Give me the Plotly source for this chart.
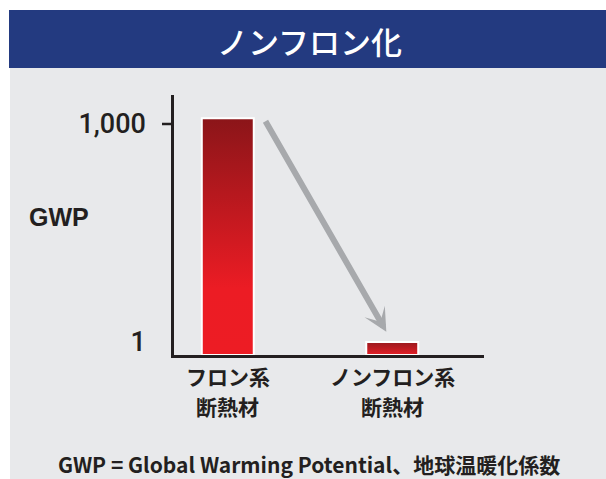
import math
import plotly.graph_objects as go

# GWP of insulation foam: fluorocarbon-blown vs. non-fluorocarbon
categories = [["フロン系", "断熱材"], ["ノンフロン系", "断熱材"]]
gwp_values = [1200, 1]
tick_values = [1, 1000]
tick_labels = ["1", "1,000"]

title_text = "ノンフロン化"
footer_text = "GWP = Global Warming Potential、地球温暖化係数"

NAVY = "#233a80"
PANEL = "#e8e9eb"
INK = "#231f20"
ARROW = "#a7a9ac"

# log axis range (exponents)
y_range = [-0.179, 3.399]
y_floor = 10 ** y_range[0]
half_w = 0.158

# gradient ramps: bottom (0) to top (1)
ramps = [
    [[0, "#ed1c24"], [0.28, "#ec1c24"], [1, "#8b1519"]],
    [[0, "#e41e26"], [1, "#98191e"]],
]

fig = go.Figure()
for i, (v, ramp) in enumerate(zip(gwp_values, ramps)):
    fig.add_trace(go.Scatter(
        x=[i - half_w, i + half_w, i + half_w, i - half_w, i - half_w],
        y=[y_floor, y_floor, v, v, y_floor],
        mode="lines",
        fill="toself",
        fillgradient=dict(type="vertical", colorscale=ramp),
        line=dict(color="white", width=2),
        hoverinfo="skip",
        showlegend=False,
    ))

W, H = 606, 479
L, R, T, B = 174, 122, 95, 124
pw, ph = W - L - R, H - T - B


def px(xp):
    return (xp - L) / pw


def py(yp):
    return (H - B - yp) / ph


shapes = [
    # panel background
    dict(type="rect", xref="paper", yref="paper", x0=px(10), x1=px(612),
         y0=py(490), y1=py(68), fillcolor=PANEL, line_width=0, layer="below"),
    # header band
    dict(type="rect", xref="paper", yref="paper", x0=px(9), x1=px(612),
         y0=py(68), y1=py(10), fillcolor=NAVY, line_width=0, layer="below"),
    # tick mark at 1,000
    dict(type="line", xref="paper", yref="y", x0=px(162), x1=0,
         y0=tick_values[1], y1=tick_values[1],
         line=dict(color=INK, width=2.5)),
]

annotations = [
    dict(text=title_text, xref="paper", yref="paper", x=px(309), y=py(40),
         xanchor="center", yanchor="middle", showarrow=False,
         font=dict(family="Noto Sans CJK JP", size=31, color="white", weight=500)),
    dict(text="GWP", xref="paper", yref="paper", x=px(59), y=py(217),
         xanchor="center", yanchor="middle", showarrow=False,
         font=dict(family="Liberation Sans", size=25, color=INK, weight="bold")),
    dict(text=footer_text, xref="paper", yref="paper", x=px(309), y=py(464),
         xanchor="center", yanchor="middle", showarrow=False,
         font=dict(family="Noto Sans CJK JP", size=21, color=INK, weight="bold")),
    # downward arrow from the fluorocarbon bar to the non-fluorocarbon bar
    dict(x=0.964, y=math.log10(gwp_values[1]) + 0.14,
         ax=0.224, ay=math.log10(gwp_values[0]) - 0.02,
         xref="x", yref="y", axref="x", ayref="y",
         showarrow=True, text="", arrowcolor=ARROW, arrowwidth=6,
         arrowhead=3, arrowsize=0.65),
]

# two-line category labels under each bar
for i, lines in enumerate(categories):
    for j, line in enumerate(lines):
        annotations.append(dict(
            text=line, xref="x", yref="paper", x=i, y=py(376 + 30 * j),
            xanchor="center", yanchor="middle", showarrow=False,
            font=dict(family="Noto Sans CJK JP", size=21, color=INK, weight="bold"),
        ))

fig.update_layout(
    width=W, height=H,
    margin=dict(l=L, r=R, t=T, b=B, pad=0),
    paper_bgcolor="white",
    plot_bgcolor="rgba(0,0,0,0)",
    shapes=shapes,
    annotations=annotations,
    xaxis=dict(
        range=[-0.327, 1.558], showticklabels=False,
        showgrid=False, zeroline=False, showline=True, linecolor=INK, linewidth=2.5,
        ticks="", fixedrange=True,
    ),
    yaxis=dict(
        type="log", range=y_range, tickvals=tick_values, ticktext=tick_labels,
        showgrid=False, zeroline=False, showline=True, linecolor=INK, linewidth=2.5,
        ticks="", ticklabelstandoff=20,
        tickfont=dict(family="Roboto", size=27, color=INK, weight=500),
        fixedrange=True,
    ),
)

fig.write_html("out.html", config={"displayModeBar": False})
